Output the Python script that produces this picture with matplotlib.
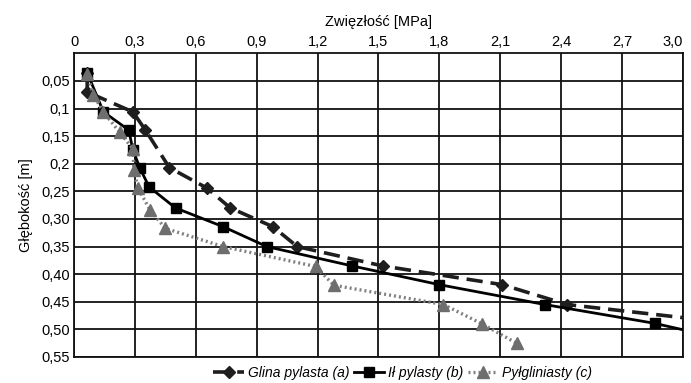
import matplotlib.pyplot as plt
from matplotlib.ticker import FixedLocator, FixedFormatter

plt.rcParams['font.family'] = ['Liberation Sans', 'DejaVu Sans']

# Zwięzłość [MPa] vs głębokość [m]
glina_x = [0.065, 0.065, 0.29, 0.35, 0.47, 0.655, 0.77, 0.98, 1.10, 1.52, 2.11, 2.43, 3.20]
glina_y = [0.035, 0.070, 0.106, 0.138, 0.207, 0.244, 0.280, 0.314, 0.350, 0.385, 0.419, 0.455, 0.487]

il_x = [0.065, 0.145, 0.27, 0.29, 0.325, 0.37, 0.50, 0.735, 0.95, 1.37, 1.80, 2.32, 2.86, 3.10]
il_y = [0.035, 0.106, 0.139, 0.175, 0.208, 0.242, 0.280, 0.314, 0.350, 0.385, 0.419, 0.455, 0.489, 0.509]

pyl_x = [0.065, 0.095, 0.145, 0.225, 0.29, 0.295, 0.315, 0.375, 0.45, 0.735, 1.19, 1.28, 1.82, 2.01, 2.18]
pyl_y = [0.037, 0.075, 0.106, 0.143, 0.173, 0.211, 0.244, 0.284, 0.317, 0.350, 0.386, 0.420, 0.455, 0.490, 0.525]

x_ticks = [0, 0.3, 0.6, 0.9, 1.2, 1.5, 1.8, 2.1, 2.4, 2.7, 3.0]
x_labels = ['0', '0,3', '0,6', '0,9', '1,2', '1,5', '1,8', '2,1', '2,4', '2,7', '3,0']
y_ticks = [0.05, 0.1, 0.15, 0.2, 0.25, 0.30, 0.35, 0.40, 0.45, 0.50, 0.55]
y_labels = ['0,05', '0,1', '0,15', '0,2', '0,25', '0,30', '0,35', '0,40', '0,45', '0,50', '0,55']

fig = plt.figure(figsize=(6.91, 3.83), dpi=100)
ax = fig.add_axes([0.1071, 0.0679, 0.8813, 0.7927])

ax.plot(glina_x, glina_y, color='#1e1e1e', lw=2.6, dashes=(4.5, 2.2), marker='D',
        markersize=6, label='Glina pylasta (a)', zorder=3)
ax.plot(il_x, il_y, color='black', lw=2.0, marker='s', markersize=7.5,
        label='Ił pylasty (b)', zorder=4)
ax.plot(pyl_x, pyl_y, color='#808080', lw=2.4, linestyle=(0, (0.6, 0.9)),
        marker='^', markersize=8, markerfacecolor='#6e6e6e', markeredgecolor='#6e6e6e',
        label='Pyłgliniasty (c)', zorder=5)

ax.set_xlim(0, 3.0)
ax.set_ylim(0.55, 0)

ax.xaxis.set_major_locator(FixedLocator(x_ticks))
ax.xaxis.set_major_formatter(FixedFormatter(x_labels))
ax.yaxis.set_major_locator(FixedLocator(y_ticks))
ax.yaxis.set_major_formatter(FixedFormatter(y_labels))
ax.xaxis.tick_top()
ax.xaxis.set_label_position('top')
ax.tick_params(axis='both', length=0, labelsize=10.5, pad=3)
ax.get_xticklabels()[-1].set_horizontalalignment('right')

ax.grid(True, color='#111111', lw=1.3)
ax.set_axisbelow(True)
for s in ax.spines.values():
    s.set_color('#111111')
    s.set_linewidth(1.3)

ax.set_xlabel('Zwięzłość [MPa]', fontsize=10.5, labelpad=7)
ax.set_ylabel('Głębokość [m]', fontsize=10.5, labelpad=6)

leg = ax.legend(loc='center', bbox_to_anchor=(0.54, -0.053), ncol=3, frameon=False,
                handlelength=2.2, handletextpad=0.3, columnspacing=0.3,
                borderpad=0, borderaxespad=0,
                prop={'style': 'italic', 'size': 10})

fig.savefig('out.png', dpi=100)
